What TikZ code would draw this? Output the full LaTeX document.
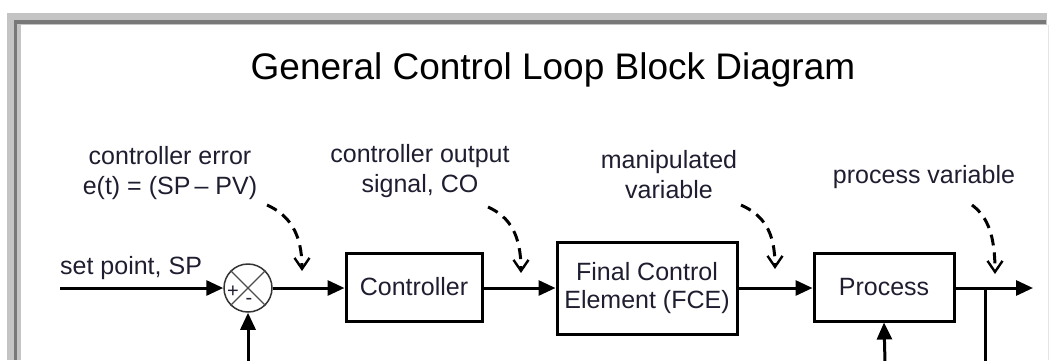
\documentclass[tikz,border=0pt]{standalone}
\usepackage{fontspec}
\setmainfont{Liberation Sans}
\usetikzlibrary{arrows.meta}
\definecolor{txt}{RGB}{30,30,48}
\definecolor{framelt}{RGB}{196,196,196}
\definecolor{framedk}{RGB}{120,120,120}
\begin{document}
\begin{tikzpicture}[x=1pt,y=-1pt,
  blk/.style={draw, line width=3pt, inner sep=0pt, font=\fontsize{25}{28}\selectfont, text=txt, align=center},
  lbl/.style={font=\fontsize{25}{30}\selectfont, text=txt, align=center, inner sep=0pt},
  sign/.style={font=\fontsize{20}{20}\selectfont, text=txt, inner sep=0pt},
  flow/.style={line width=3pt, -{Triangle[length=17pt,width=15pt]}},
  note/.style={line width=3pt, dash pattern=on 11pt off 7pt, -{Straight Barb[length=11pt,width=15pt,line width=2.4pt]}},
]
\useasboundingbox (0,0) rectangle (1049,360);
% frame
\fill[framelt] (7,13) rectangle (1047,25);
\fill[framelt] (7,13) rectangle (21,360);
\draw[framedk, line width=3.5pt] (15.5,360) -- (15.5,22) -- (1046,22);
\draw[gray!20, line width=1pt] (1048.5,25) -- (1048.5,360);

% title
\node[font=\fontsize{37}{40}\selectfont, text=black, anchor=base, inner sep=0pt] (title) at (553,79) {General Control Loop Block Diagram};

% blocks
\node[draw=black!80, circle, minimum size=48pt, line width=1.5pt, inner sep=0pt] (sum) at (248,288) {};
\draw[black!70, line width=1.1pt] (sum.north west) -- (sum.south east) (sum.north east) -- (sum.south west);
\node[sign] (plus) at (233,292) {+};
\node[sign] (minus) at (249,301) {-};

\node[blk, minimum width=136pt, minimum height=68pt] (ctrl) at (414,287) {Controller};
\node[blk, minimum width=180pt, minimum height=92pt] (fce) at (647,288) {Final Control\\Element (FCE)};
\node[blk, minimum width=140pt, minimum height=68pt] (proc) at (884,287) {Process};

% labels
\node[lbl, anchor=west] (sp) at (60,268) {set point, SP};
\node[lbl] (errl) at (170,173) {controller error\\e(t) = (SP\,– PV)};
\node[lbl] (col) at (420,171) {controller output\\signal, CO};
\node[lbl] (mvl) at (669,175) {manipulated\\variable};
\node[lbl] (pvl) at (924,177) {process variable};

% coordinates
\coordinate (spin) at (60,288);
\coordinate (out) at (1033,288);
\coordinate (br) at (985,288);
\coordinate (brbot) at (985,362);
\coordinate (fb1) at (248,362);
\coordinate (fb2) at (885,362);

% flow connectors
\draw[flow] (spin) -- (sum.west);
\draw[flow] (sum.east) -- (sum.east -| ctrl.west);
\draw[flow] (ctrl.east |- fce.west) -- (fce.west);
\draw[flow] (fce.east) -- (fce.east -| proc.west);
\draw[flow] (fce.east -| proc.east) -- (out);
\draw[line width=3pt] (br) -- (brbot);
\draw[flow] (fb1) -- (sum.south);
\draw[flow] (fb2) -- (proc.south);

% dashed pointers
\coordinate (n1s) at (267,205); \coordinate (n1e) at (302,271);
\coordinate (n2s) at (488,207); \coordinate (n2e) at (521,273);
\coordinate (n3s) at (741,205); \coordinate (n3e) at (775,269);
\coordinate (n4s) at (972,205); \coordinate (n4e) at (995,274);
\draw[note] (n1s) .. controls +(22,10) and +(0,-38) .. (n1e);
\draw[note] (n2s) .. controls +(22,10) and +(0,-38) .. (n2e);
\draw[note] (n3s) .. controls +(22,10) and +(0,-38) .. (n3e);
\draw[note] (n4s) .. controls +(16,12) and +(0,-38) .. (n4e);
\end{tikzpicture}
\end{document}
